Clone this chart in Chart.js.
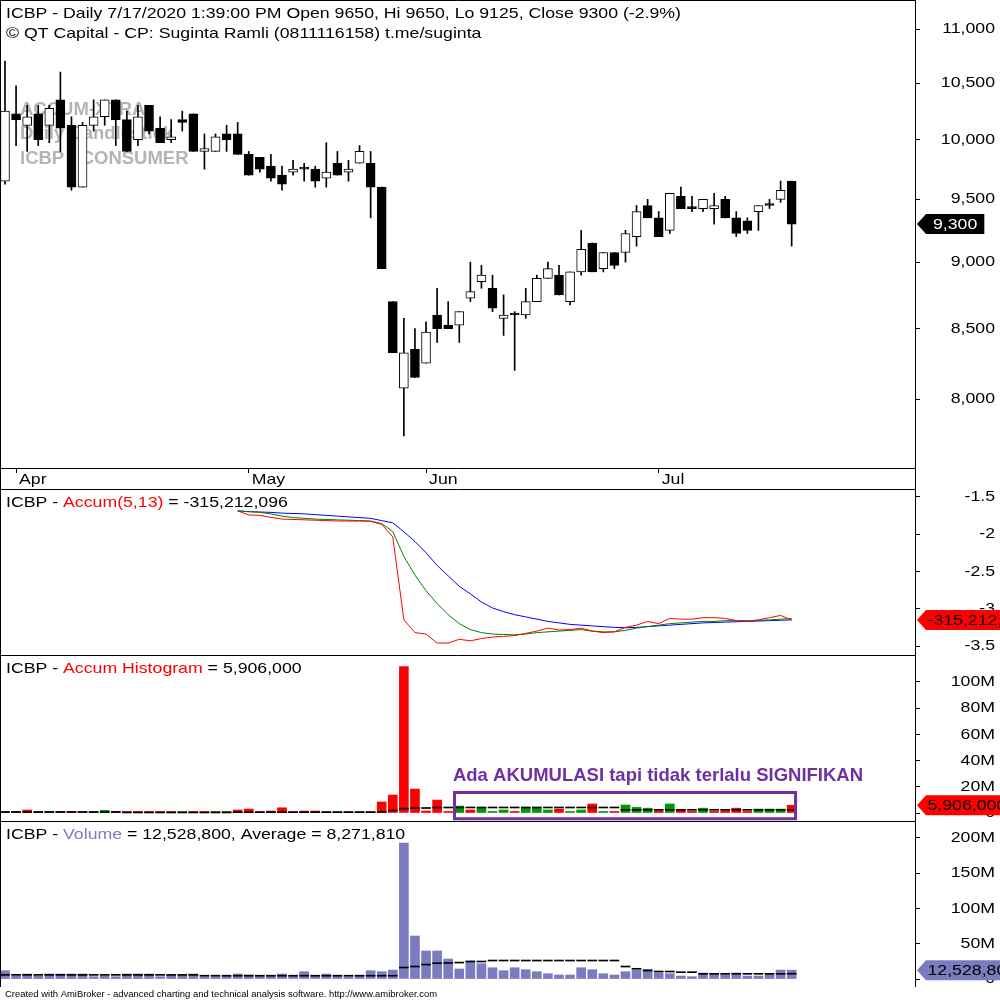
<!DOCTYPE html>
<html>
<head>
<meta charset="utf-8">
<script src="https://cdn.jsdelivr.net/npm/chart.js@4.4.1/dist/chart.umd.min.js"></script>
<style>
  body { margin: 0; background: #fff; width: 1000px; height: 1000px; overflow: hidden; position: relative; }
  canvas { position: absolute; left: 0; }
</style>
</head>
<body>
<canvas id="price" width="1000" height="489" style="top:0px"></canvas>
<canvas id="accum" width="1000" height="166" style="top:489px"></canvas>
<canvas id="hist" width="1000" height="166" style="top:655px"></canvas>
<canvas id="vol" width="1000" height="179" style="top:821px"></canvas>
<script>
// ---- data ----
const months = ['Apr', 'May', 'Jun', 'Jul'];
const monthStart = [1, 22, 38, 59];          // bar index of first day of month

const open  = [9650,10225,10125,10225,10125,10350,10125,9600,10125,10200,10350,10175,10000,10300,10100,10000,10175,10225,9900,9900,10050,10050,9875,9850,9775,9700,9725,9750,9750,9675,9800,9725,9800,9800,9600,8700,8075,8350,8250,8600,8525,8525,8725,8850,8800,8575,8600,8600,8700,8875,8900,8700,8925,9150,8950,9075,9075,9200,9450,9350,9250,9525,9425,9425,9425,9500,9350,9325,9400,9450,9500,9650];
const high  = [10700,10475,10300,10300,10300,10600,10200,10150,10350,10350,10350,10250,10300,10300,10200,10175,10250,10225,10050,10050,10125,10150,9900,9850,9875,9775,9825,9800,9775,9975,9900,9825,9950,9900,9600,8700,8575,8500,8550,8800,8700,8625,9000,8975,8900,8750,8625,8800,8900,9000,8975,8925,9250,9150,9075,9075,9250,9450,9500,9400,9550,9600,9525,9500,9550,9525,9400,9350,9450,9500,9650,9650];
const low   = [9625,9950,9900,9950,9975,9900,9575,9600,10075,10125,9950,9900,9950,10050,9975,9975,10075,9900,9750,9900,9900,9875,9700,9725,9650,9575,9700,9650,9600,9600,9700,9650,9800,9350,8950,8325,7750,8150,8250,8400,8500,8400,8700,8800,8625,8450,8200,8575,8700,8875,8750,8675,8900,8925,8925,8950,9000,9125,9350,9200,9225,9425,9400,9400,9300,9350,9200,9225,9250,9425,9475,9125];
const close = [10250,10175,10200,10000,10275,10100,9600,10125,10200,10350,10175,9900,10200,10075,9975,10025,10150,9900,9925,10025,10000,9875,9700,9750,9675,9625,9750,9750,9650,9725,9700,9750,9900,9600,8950,8325,8325,8150,8475,8500,8500,8625,8775,8900,8650,8600,8600,8700,8875,8950,8750,8925,9100,8925,9075,8975,9225,9400,9350,9200,9550,9425,9425,9500,9450,9350,9225,9250,9450,9450,9575,9300];
const priceTicks = [8000, 8500, 9000, 9500, 10000, 10500, 11000];

// Accum(5,13), in units of 100M, starting at bar 21
const accumStart = 21;
const accumLine = [-1.69,-1.745,-1.75,-1.776,-1.80,-1.805,-1.81,-1.815,-1.82,-1.825,-1.826,-1.826,-1.83,-1.87,-2.04,-3.15,-3.32,-3.34,-3.46,-3.46,-3.41,-3.43,-3.40,-3.38,-3.37,-3.36,-3.33,-3.30,-3.26,-3.285,-3.28,-3.26,-3.30,-3.32,-3.31,-3.25,-3.22,-3.17,-3.20,-3.13,-3.14,-3.14,-3.12,-3.12,-3.13,-3.16,-3.17,-3.15,-3.12,-3.09,-3.152];
const accumFast = [-1.69,-1.70,-1.71,-1.73,-1.76,-1.78,-1.79,-1.80,-1.805,-1.81,-1.815,-1.82,-1.826,-1.86,-1.97,-2.30,-2.55,-2.76,-2.93,-3.08,-3.20,-3.28,-3.32,-3.34,-3.345,-3.35,-3.34,-3.32,-3.31,-3.30,-3.29,-3.28,-3.30,-3.31,-3.31,-3.29,-3.26,-3.24,-3.22,-3.20,-3.19,-3.18,-3.17,-3.17,-3.16,-3.16,-3.16,-3.155,-3.15,-3.14,-3.13];
const accumSlow = [-1.69,-1.70,-1.705,-1.71,-1.72,-1.725,-1.73,-1.74,-1.75,-1.76,-1.77,-1.78,-1.79,-1.82,-1.85,-1.97,-2.10,-2.25,-2.42,-2.56,-2.70,-2.80,-2.91,-2.99,-3.04,-3.08,-3.11,-3.14,-3.17,-3.19,-3.21,-3.22,-3.23,-3.24,-3.25,-3.255,-3.25,-3.24,-3.23,-3.22,-3.21,-3.20,-3.19,-3.185,-3.18,-3.175,-3.17,-3.165,-3.16,-3.155,-3.15];
const accumTicks = [-1.5, -2, -2.5, -3, -3.5];
const lastAccum = -315212096;

// Accum Histogram, millions
const histValues = [0.5,1.3,2.3,0.5,1.2,1.2,1.2,1.2,0.3,2.0, 1.2,1.2,1.2,0.5,0.5,0.5,0.5,0.5,0.5,0.5, 0.5,2.3,3.0,0.5,1.5,4.0,0.7,1.5,1.5,0.4, 0.4,0.4,0.4,0.7,8.4,13.7,111.7,18.3,1.5,9.9, 0.3,5.3,2.3,3.8,0.7,2.3,0.3,3.8,3.8,2.3, 3.0,0.7,2.3,6.9,0.7,0.7,6.1,4.3,3.7,1.5, 6.9,2.8,1.2,3.7,1.2,1.5,3.7,1.2,3.0,3.0, 3.0,5.906];
const histColor = ['g','r','r','r','g','r','r','g','g','g', 'r','r','r','r','r','r','g','r','r','g', 'g','r','r','r','r','r','r','r','r','g', 'g','r','g','r','r','r','r','r','r','r', 'r','g','r','g','g','g','r','g','g','g', 'r','g','g','r','g','r','g','g','g','r', 'g','r','r','g','r','r','r','r','g','g', 'g','r'];
const histAvg = [1.1,1.1,1.1,1.1,1.1,1.1,1.1,1.1,1.1,1.1, 1.1,0.8,0.8,0.8,0.8,0.8,0.8,0.8,0.8,0.8, 0.8,1.0,1.0,1.0,1.0,1.0,1.0,1.0,1.0,1.0, 1.0,1.0,1.0,1.0,1.2,2.3,3.7,4.2,4.2,4.6, 4.6,4.6,4.6,4.6,4.6,4.6,4.6,4.6,4.6,4.6, 4.6,4.6,4.6,4.6,4.6,4.6,2.8,2.8,2.8,2.8, 2.8,2.8,2.8,2.8,2.8,2.8,2.8,2.8,2.8,2.8, 2.8,2.8];
const histTicks = [0, 20, 40, 60, 80, 100];
const lastHist = 5906000;

// Volume, millions
const volume = [11.8,4.2,7.1,4.2,7.1,7.1,7.1,7.1,3.3,4.2, 3.3,7.1,7.1,7.1,3.3,5.2,5.2,7.1,3.3,3.3, 4.2,7.1,5.7,4.2,5.2,7.1,4.2,10.4,4.2,7.1, 5.2,3.3,5.2,11.8,10.4,12.7,192.6,60.9,39.7,39.7, 28.3,14.2,25.5,21.7,16.0,11.8,16.0,13.2,10.4,7.5, 5.7,5.7,16.0,13.2,7.5,5.7,10.4,12.3,13.7,8.5, 7.5,4.2,3.3,8.5,8.0,6.1,8.5,4.2,4.2,7.1, 12.7,12.53];
const volumeAvg = [6.6,6.6,6.6,6.6,6.6,6.6,6.6,6.6,6.6,6.6, 6.6,6.6,6.6,6.6,6.6,6.6,6.6,6.6,5.4,5.4, 5.4,5.4,5.4,5.4,5.4,5.4,5.4,5.4,5.4,5.4, 5.4,5.4,5.4,5.4,5.4,5.4,17.0,18.4,21.2,23.1, 23.5,24.0,25.5,25.5,26.9,26.9,26.9,26.9,26.9,26.9, 26.9,26.9,26.9,26.9,26.9,26.9,18.4,15.2,12.7,11.3, 11.3,10.4,10.4,8.1,8.1,8.1,8.1,8.1,8.1,8.1, 8.1,8.27];
const volumeTicks = [0, 50, 100, 150, 200];
const lastVolume = 12528800;
const lastVolumeAvg = 8271810;

const watermark = ['ACCUM-XTRA', 'Daily Candlestick', 'ICBP - CONSUMER'];
const note = 'Ada AKUMULASI tapi tidak terlalu SIGNIFIKAN';
const footer = 'Created with AmiBroker - advanced charting and technical analysis software. http://www.amibroker.com';

// ---- style ----
const FONT = '15px "Liberation Sans", Arial, sans-serif';
const SX = 1.18;           // the screenshot text is a bit wide
const AXIS_W = 85;
const RED = '#ff0000', GREEN = '#009900', BLUEGREY = '#7b7bc0', PURPLE = '#7030a0';

function label(ctx, s, x, y, opt = {}) {
  ctx.save();
  ctx.font = opt.font || FONT;
  ctx.fillStyle = opt.color || '#000';
  ctx.textAlign = opt.align || 'left';
  ctx.textBaseline = opt.base || 'alphabetic';
  ctx.translate(x, y);
  ctx.scale(opt.sx || SX, 1);
  ctx.fillText(s, 0, 0);
  ctx.restore();
}
function textWidth(ctx, s, font, sx) {
  ctx.save();
  ctx.font = font || FONT;
  const w = ctx.measureText(s).width * (sx || SX);
  ctx.restore();
  return w;
}
function badge(ctx, chart, value, text, fill, color, pad) {
  const y = chart.scales.y.getPixelForValue(value);
  const tip = chart.chartArea.right + 2, x0 = tip + 9, h = 20;
  const w = textWidth(ctx, text) + pad * 2;
  ctx.fillStyle = fill;
  ctx.beginPath();
  ctx.moveTo(tip, y);
  ctx.lineTo(x0, y - h / 2);
  ctx.lineTo(x0 + w, y - h / 2);
  ctx.lineTo(x0 + w, y + h / 2);
  ctx.lineTo(x0, y + h / 2);
  ctx.closePath();
  ctx.fill();
  label(ctx, text, x0 + pad, y + 1, { color: color, base: 'middle' });
}

// pane decoration: frame, right axis labels, title, value badge
function amiPane(cfg) {
  return {
    id: 'amiPane',
    beforeDatasetsDraw(chart) { if (cfg.under) cfg.under(chart.ctx, chart); },
    afterDraw(chart) {
      const ctx = chart.ctx, a = chart.chartArea, ys = chart.scales.y;
      const bottom = cfg.frameBottom || chart.height;
      ctx.save();
      ctx.strokeStyle = '#000';
      ctx.lineWidth = 1;
      ctx.beginPath();
      ctx.moveTo(0, 0.5); ctx.lineTo(a.right, 0.5);
      ctx.moveTo(0.5, 0); ctx.lineTo(0.5, bottom);
      ctx.moveTo(a.right + 0.5, 0); ctx.lineTo(a.right + 0.5, bottom);
      ctx.stroke();
      ys.ticks.forEach(t => label(ctx, cfg.fmt(t.value), 995, ys.getPixelForValue(t.value), { align: 'right', base: 'middle' }));
      cfg.title.forEach((line, k) => {
        let x = 6;
        line.forEach(([s, c]) => { label(ctx, s, x, 18 + k * 20, { color: c }); x += textWidth(ctx, s); });
      });
      if (cfg.over) cfg.over(ctx, chart);
      const b = cfg.badge;
      badge(ctx, chart, b.value, b.text, b.fill, b.color, b.pad);
      ctx.restore();
    }
  };
}

const X_MIN = -0.45, X_MAX = 82.13;   // 72 bars plus empty room on the right
function xScale(display) {
  const s = {
    type: 'linear', min: X_MIN, max: X_MAX, offset: false, display: display,
    grid: { offset: false, drawOnChartArea: false, tickLength: 5, color: '#000' },
    border: { display: false },
    ticks: { display: false },
    afterBuildTicks: sc => { sc.ticks = monthStart.map(v => ({ value: v })); }
  };
  if (display) s.afterFit = sc => { sc.height = 21; };
  return s;
}
function yScale(type, min, max, ticks) {
  return {
    type: type, position: 'right', min: min, max: max,
    grid: { drawOnChartArea: false, tickLength: 5, color: '#000' },
    border: { display: false },
    ticks: { display: false },
    afterBuildTicks: s => { s.ticks = ticks.map(v => ({ value: v })); },
    afterFit: s => { s.width = AXIS_W; }
  };
}
function options(x, y, padBottom) {
  return {
    responsive: false, animation: false, devicePixelRatio: 1, events: [],
    layout: { padding: { left: 0, right: 0, top: 0, bottom: padBottom || 0 }, autoPadding: false },
    plugins: { legend: { display: false }, tooltip: { enabled: false } },
    scales: { x: x, y: y }
  };
}
const fmtNum = v => v.toLocaleString('en-US');
const fmtM = v => v === 0 ? '0' : v + 'M';

// ---- price pane ----
const idx = open.map((_, i) => i);
const n = close.length - 1;
const change = ((close[n] - close[n - 1]) / close[n - 1] * 100).toFixed(1);

new Chart(document.getElementById('price'), {
  type: 'bar',
  data: {
    datasets: [
      { // bodies
        data: idx.map(i => ({ x: i, y: [open[i], close[i]] })),
        backgroundColor: idx.map(i => close[i] > open[i] ? '#fff' : '#000'),
        borderColor: '#000', borderWidth: 1, borderSkipped: false,
        barThickness: 9, minBarLength: 2, grouped: false
      },
      { // wicks
        data: idx.map(i => ({ x: i, y: [low[i], high[i]] })),
        backgroundColor: '#000', borderWidth: 0,
        barThickness: 1, grouped: false
      }
    ]
  },
  options: options(xScale(true), yScale('logarithmic', 7539, 11278, priceTicks)),
  plugins: [amiPane({
    fmt: fmtNum,
    title: [
      [['ICBP - Daily 7/17/2020 1:39:00 PM Open ' + open[n] + ', Hi ' + high[n] + ', Lo ' + low[n] + ', Close ' + close[n] + ' (' + change + '%)', '#000']],
      [['\u00a9 QT Capital - CP: Suginta Ramli (0811116158) t.me/suginta', '#000']]
    ],
    under(ctx) {
      watermark.forEach((s, k) => label(ctx, s, 20, 114.5 + k * 24.5,
        { font: 'bold 18.5px "Liberation Sans", Arial, sans-serif', color: '#b4b4b4', sx: 1 }));
    },
    over(ctx, chart) {
      const a = chart.chartArea, xs = chart.scales.x;
      ctx.beginPath();
      ctx.moveTo(0, a.bottom + 0.5); ctx.lineTo(a.right, a.bottom + 0.5);
      ctx.stroke();
      monthStart.forEach((m, k) => label(ctx, months[k], xs.getPixelForValue(m) + 3, a.bottom + 16));
    },
    badge: { value: close[n], text: fmtNum(close[n]), fill: '#000', color: '#fff', pad: 7 }
  })]
});

// ---- accum pane ----
const accPts = arr => arr.map((v, j) => ({ x: accumStart + j, y: v }));
new Chart(document.getElementById('accum'), {
  type: 'line',
  data: {
    datasets: [
      { data: accPts(accumLine), borderColor: RED, borderWidth: 1, pointRadius: 0, tension: 0 },
      { data: accPts(accumFast), borderColor: '#008000', borderWidth: 1, pointRadius: 0, tension: 0 },
      { data: accPts(accumSlow), borderColor: '#0000ff', borderWidth: 1, pointRadius: 0, tension: 0 }
    ]
  },
  options: options(xScale(false), yScale('linear', -3.62, -1.397, accumTicks)),
  plugins: [amiPane({
    fmt: v => String(v),
    title: [[['ICBP - ', '#000'], ['Accum(5,13)', RED], [' = ' + fmtNum(lastAccum), '#000']]],
    badge: { value: lastAccum / 1e8, text: fmtNum(lastAccum), fill: RED, color: '#000', pad: 1.5 }
  })]
});

// ---- accum histogram pane ----
new Chart(document.getElementById('hist'), {
  type: 'bar',
  data: {
    datasets: [
      { data: histAvg.map((v, i) => ({ x: i, y: [v, v] })), backgroundColor: '#000',
        barThickness: 9, minBarLength: 1, grouped: false },
      { data: histValues.map((v, i) => ({ x: i, y: v })),
        backgroundColor: histColor.map(c => c === 'g' ? GREEN : RED),
        barThickness: 9, minBarLength: 1.5, grouped: false }
    ]
  },
  options: options(xScale(false), yScale('linear', -6.1, 120.6, histTicks)),
  plugins: [amiPane({
    fmt: fmtM,
    title: [[['ICBP - ', '#000'], ['Accum Histogram', RED], [' = ' + fmtNum(lastHist), '#000']]],
    over(ctx, chart) {
      const xs = chart.scales.x, ys = chart.scales.y;
      const x1 = xs.getPixelForValue(40.57), x2 = xs.getPixelForValue(71.35);
      const y1 = ys.getPixelForValue(15.65), y2 = ys.getPixelForValue(-4.4);
      ctx.strokeStyle = PURPLE;
      ctx.lineWidth = 3;
      ctx.strokeRect(x1, y1, x2 - x1, y2 - y1);
      label(ctx, note, xs.getPixelForValue(40.43), ys.getPixelForValue(24.4),
        { font: 'bold 18.5px "Liberation Sans", Arial, sans-serif', color: PURPLE, sx: 1 });
    },
    badge: { value: lastHist / 1e6, text: fmtNum(lastHist), fill: RED, color: '#000', pad: 1.5 }
  })]
});

// ---- volume pane ----
new Chart(document.getElementById('vol'), {
  type: 'bar',
  data: {
    datasets: [
      { data: volumeAvg.map((v, i) => ({ x: i, y: [v, v] })), backgroundColor: '#000',
        barThickness: 9, minBarLength: 1, grouped: false },
      { data: volume.map((v, i) => ({ x: i, y: v })), backgroundColor: BLUEGREY,
        barThickness: 9, minBarLength: 1.5, grouped: false }
    ]
  },
  options: options(xScale(false), yScale('linear', -11.3, 223.8, volumeTicks), 13),
  plugins: [amiPane({
    fmt: fmtM,
    frameBottom: 166,
    title: [[['ICBP - ', '#000'], ['Volume', BLUEGREY], [' = ' + fmtNum(lastVolume) + ', Average = ' + fmtNum(lastVolumeAvg), '#000']]],
    over(ctx) {
      const f = '8.5px "Liberation Sans", Arial, sans-serif';
      label(ctx, footer, 5, 176, { font: f, sx: 432 / textWidth(ctx, footer, f, 1) });
    },
    badge: { value: lastVolume / 1e6, text: fmtNum(lastVolume), fill: BLUEGREY, color: '#000', pad: 1.5 }
  })]
});
</script>
</body>
</html>
